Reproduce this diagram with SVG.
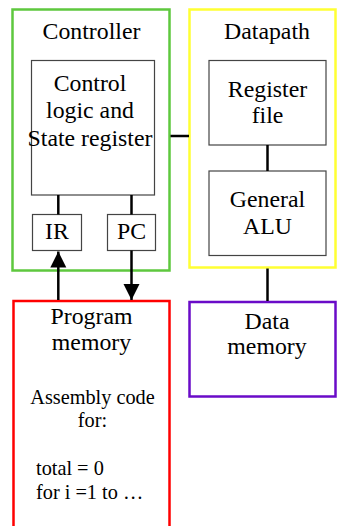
<svg xmlns="http://www.w3.org/2000/svg" width="337" height="526" viewBox="0 0 337 526">
  <style>
    .t { font-family: "Liberation Serif", "DejaVu Serif", "Times New Roman", Times, serif; font-size: 23.8px; fill: #000; text-anchor: middle; }
    .code { font-family: "Liberation Serif", "DejaVu Serif", "Times New Roman", Times, serif; font-size: 20.3px; fill: #000; }
    .codec { text-anchor: middle; }
    .inner { fill: #fff; stroke: #444; stroke-width: 1.2; }
    .wire { stroke: #000; stroke-width: 2.5; fill: none; }
  </style>
  <defs>
    <marker id="head" viewBox="0 0 16 17" refX="16" refY="8" markerWidth="16" markerHeight="17" markerUnits="userSpaceOnUse" orient="auto">
      <path d="M0,0 L16,8 L0,16 Z" fill="#000"/>
    </marker>
  </defs>
  <rect width="337" height="526" fill="#fff"/>

  <g id="controller">
    <rect x="12.5" y="9.5" width="157" height="261" fill="none" stroke="#5ec83e" stroke-width="2.5"/>
    <text class="t" x="91.5" y="39">Controller</text>
  </g>

  <g id="control-logic">
    <rect class="inner" x="31.5" y="60.5" width="123" height="134.5"/>
    <text class="t" x="90" y="91">Control</text>
    <text class="t" x="90" y="118">logic and</text>
    <text class="t" x="90" y="146">State register</text>
  </g>

  <g id="ir">
    <rect class="inner" x="32.5" y="214.5" width="49" height="36"/>
    <text class="t" x="57" y="238.5">IR</text>
  </g>

  <g id="pc">
    <rect class="inner" x="107.5" y="214.5" width="48" height="36"/>
    <text class="t" x="131.5" y="238.5">PC</text>
  </g>

  <g id="datapath">
    <rect x="189.5" y="9.5" width="146" height="258" fill="none" stroke="#ffff33" stroke-width="2.5"/>
    <text class="t" x="267" y="39">Datapath</text>
  </g>

  <g id="register-file">
    <rect class="inner" x="209" y="60.5" width="117" height="84.5"/>
    <text class="t" x="267.5" y="96.5">Register</text>
    <text class="t" x="267.5" y="122.5">file</text>
  </g>

  <g id="alu">
    <rect class="inner" x="209" y="171" width="117" height="84.5"/>
    <text class="t" x="267.5" y="206.5">General</text>
    <text class="t" x="267.5" y="234">ALU</text>
  </g>

  <g id="program-memory">
    <rect x="13.5" y="301" width="156" height="240" fill="none" stroke="#ff0000" stroke-width="2.5"/>
    <text class="t" x="91.5" y="323.5">Program</text>
    <text class="t" x="91.5" y="350">memory</text>
    <text class="code codec" x="92.5" y="404">Assembly code</text>
    <text class="code codec" x="92.5" y="427">for:</text>
    <text class="code" x="36" y="474.5">total = 0</text>
    <text class="code" x="36" y="498.5">for i =1 to …</text>
  </g>

  <g id="data-memory">
    <rect x="189.5" y="302" width="146" height="94.5" fill="none" stroke="#6a0bc8" stroke-width="2.5"/>
    <text class="t" x="267" y="328.5">Data</text>
    <text class="t" x="267" y="354">memory</text>
  </g>

  <g id="connectors">
    <line class="wire" x1="58.3" y1="195" x2="58.3" y2="214.5"/>
    <line class="wire" x1="131.5" y1="195" x2="131.5" y2="214.5"/>
    <line class="wire" x1="170.5" y1="136" x2="189" y2="136"/>
    <line class="wire" x1="267.5" y1="145" x2="267.5" y2="171"/>
    <line class="wire" x1="267.5" y1="268.5" x2="267.5" y2="301"/>
    <line class="wire" x1="58.3" y1="300" x2="58.3" y2="251.5" marker-end="url(#head)"/>
    <line class="wire" x1="131.5" y1="250.5" x2="131.5" y2="300" marker-end="url(#head)"/>
  </g>
</svg>
